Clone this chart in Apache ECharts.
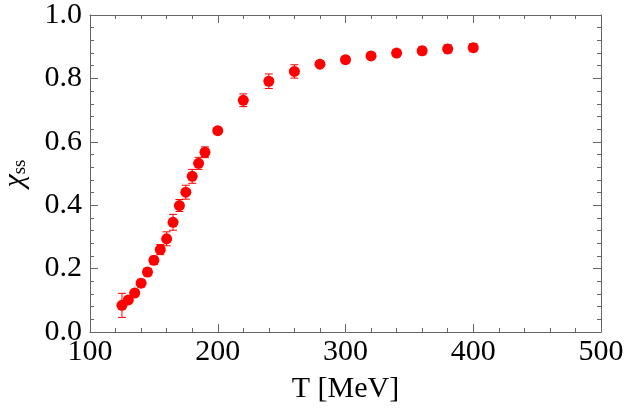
<!DOCTYPE html>
<html>
<head>
<meta charset="utf-8">
<script src="https://cdn.jsdelivr.net/npm/echarts@6/dist/echarts.min.js"></script>
<style>html,body{margin:0;padding:0;background:#fff;}#c{width:625px;height:411px;}</style>
</head>
<body>
<div id="c"></div>
<script>
const temperatures = [125,130,135,140,145,150,155,160,165,170,175,180,185,190,200,220,240,260,280,300,320,340,360,380,400];
const chiValues    = [0.084,0.101,0.123,0.154,0.189,0.226,0.260,0.294,0.346,0.399,0.441,0.491,0.532,0.567,0.635,0.731,0.791,0.822,0.845,0.859,0.871,0.880,0.887,0.893,0.897];
const chiErrors    = [0.038,0.008,0.010,0.012,0.012,0.013,0.016,0.022,0.025,0.019,0.022,0.022,0.019,0.017,0.010,0.020,0.023,0.021,0.010,0.010,0.010,0.010,0.012,0.013,0.013];
const xTicks = [100,200,300,400,500];
const yTicks = [0.0,0.2,0.4,0.6,0.8,1.0];

const font = "Liberation Serif";
const frameColor = '#666';
const points = temperatures.map((t,i)=>[t, chiValues[i]]);
const bars = temperatures.map((t,i)=>[t, chiValues[i]-chiErrors[i], chiValues[i]+chiErrors[i]]);

function axisCommon(showLabel){
  return {
    axisLine:{show:true, onZero:false, lineStyle:{color:frameColor, width:1}},
    axisTick:{show:true, inside:true, length:8, lineStyle:{color:frameColor}},
    minorTick:{show:true, splitNumber:5, length:4, lineStyle:{color:frameColor}},
    splitLine:{show:false},
    axisLabel:{show:showLabel, color:'#000', fontFamily:font, fontSize:30}
  };
}
const xMin = xTicks[0], xMax = xTicks[xTicks.length-1];
const yMin = yTicks[0], yMax = yTicks[yTicks.length-1];

const chart = echarts.init(document.getElementById('c'));
chart.setOption({
  animation:false,
  grid:{left:90, right:24, top:15, bottom:79, containLabel:false, outerBoundsMode:'none'},
  xAxis:[
    Object.assign({type:'value', min:xMin, max:xMax, interval:100, position:'bottom',
      name:'T [MeV]', nameLocation:'middle', nameGap:42,
      nameTextStyle:{fontFamily:font, fontSize:30, color:'#000'}}, axisCommon(true),
      {axisLabel:{show:true, color:'#000', fontFamily:font, fontSize:30, margin:5}}),
    Object.assign({type:'value', min:xMin, max:xMax, interval:100, position:'top'}, axisCommon(false))
  ],
  yAxis:[
    Object.assign({type:'value', min:yMin, max:yMax, interval:0.2, position:'left',
      name:'{a|χ}{b|ss}', nameLocation:'middle', nameGap:60, nameRotate:90,
      nameTextStyle:{rich:{
        a:{fontFamily:font, fontSize:30, fontStyle:'italic', color:'#000', verticalAlign:'bottom', lineHeight:34},
        b:{fontFamily:font, fontSize:19, color:'#000', verticalAlign:'bottom', lineHeight:28}
      }}}, axisCommon(true),
      {axisLabel:{show:true, color:'#000', fontFamily:font, fontSize:30, margin:8,
        formatter:(v)=>v.toFixed(1)}}),
    Object.assign({type:'value', min:yMin, max:yMax, interval:0.2, position:'right'}, axisCommon(false))
  ],
  series:[
    {
      type:'custom', xAxisIndex:0, yAxisIndex:0, data:bars, z:2,
      renderItem:function(params, api){
        const x = api.value(0);
        const lo = api.coord([x, api.value(1)]);
        const hi = api.coord([x, api.value(2)]);
        const hw = 4;
        const st = {stroke:'#ff0000', lineWidth:1};
        return {type:'group', children:[
          {type:'line', shape:{x1:lo[0], y1:lo[1], x2:hi[0], y2:hi[1]}, style:st},
          {type:'line', shape:{x1:lo[0]-hw, y1:lo[1], x2:lo[0]+hw, y2:lo[1]}, style:st},
          {type:'line', shape:{x1:hi[0]-hw, y1:hi[1], x2:hi[0]+hw, y2:hi[1]}, style:st}
        ]};
      }
    },
    {
      type:'scatter', xAxisIndex:0, yAxisIndex:0, data:points, z:3,
      symbol:'circle', symbolSize:11,
      itemStyle:{color:'#ff0000', opacity:1}
    }
  ]
});
</script>
</body>
</html>
